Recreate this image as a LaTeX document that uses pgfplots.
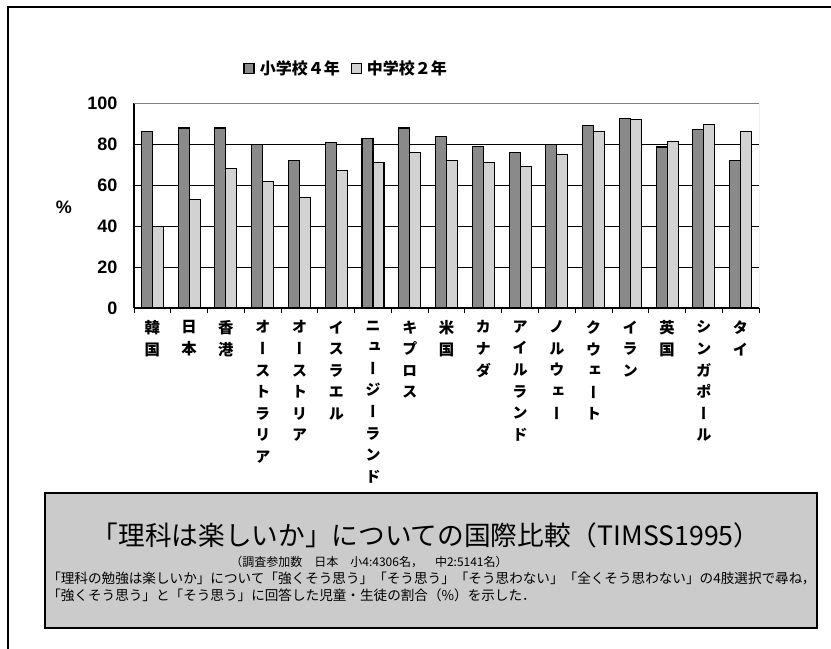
\documentclass[border=0pt]{standalone}
\usepackage{fontspec}
\setmainfont{Liberation Sans}
\newfontfamily\cjk{Noto Sans CJK JP}
\newfontfamily\tate[RawFeature=+vert]{Noto Sans CJK JP}
\usepackage{pgfplots}
\usepackage{pgfplotstable}
\pgfplotsset{compat=1.18}
\definecolor{darkbar}{HTML}{8A8A8A}
\definecolor{lightbar}{HTML}{D2D2D2}
\definecolor{boxgray}{HTML}{CBCBCB}

\pgfplotstableread{
x A B
0 86.5 40
1 88 53
2 88 68
3 80 62
4 72 54
5 81 67
6 83 71
7 88 76
8 84 72
9 79 71
10 76 69
11 80 75
12 89 86.5
13 92.5 92.3
14 78.7 81.3
15 87.4 89.8
16 72.3 86.4
}\datatable

\begin{document}
\begin{tikzpicture}
\useasboundingbox (0pt,0pt) rectangle (623.25pt,486.75pt);
% outer frame
\draw[line width=0.9pt] (6pt,0pt) -- (6pt,481.5pt) -- (623.25pt,481.5pt);

\begin{axis}[
  at={(100.5pt,255.75pt)}, anchor=south west,
  scale only axis, width=468.75pt, height=153.4pt,
  xmin=-0.5, xmax=16.5, ymin=0, ymax=100,
  ybar=0pt, bar width=8.25pt,
  axis lines*=left,
  axis line style={-, line width=0.8pt, black},
  xtick={0,...,16},
  xticklabels={{韓\\国},{日\\本},{香\\港},{オ\\ー\\ス\\ト\\ラ\\リ\\ア},{オ\\ー\\ス\\ト\\リ\\ア},{イ\\ス\\ラ\\エ\\ル},{ニ\\ュ\\ー\\ジ\\ー\\ラ\\ン\\ド},{キ\\プ\\ロ\\ス},{米\\国},{カ\\ナ\\ダ},{ア\\イ\\ル\\ラ\\ン\\ド},{ノ\\ル\\ウ\\ェ\\ー},{ク\\ウ\\ェ\\ー\\ト},{イ\\ラ\\ン},{英\\国},{シ\\ン\\ガ\\ポ\\ー\\ル},{タ\\イ}},
  xticklabel style={font=\tate\bfseries\fontsize{11.5}{16.2}\selectfont, align=center, anchor=north, yshift=-6pt},
  minor xtick={-0.5,0.5,...,16.5},
  ytick={0,20,...,100},
  major tick length=0pt, minor tick length=4pt, tick align=outside,
  minor tick style={black, line width=0.6pt},
  ymajorgrids, grid style={black, line width=0.6pt},
  /pgf/number format/assume math mode=true,
  yticklabel style={font=\bfseries\fontsize{13.5}{15}\selectfont, anchor=east, xshift=-9pt},
  legend style={at={(0.34,1.169)}, anchor=center, draw=none, fill=none,
    legend columns=2, font=\cjk\bfseries\fontsize{12}{14}\selectfont,
    /tikz/every even column/.append style={column sep=6pt}},
]
\addplot[fill=darkbar, draw=black, line width=0.8pt,
  legend image code/.code={\draw[fill=darkbar,draw=black,line width=0.8pt] (0pt,-3.75pt) rectangle (7.5pt,3.75pt);}]
  table[x=x,y=A]{\datatable};
\addplot[fill=lightbar, draw=black, line width=0.8pt,
  legend image code/.code={\draw[fill=lightbar,draw=black,line width=0.8pt] (0pt,-3.75pt) rectangle (7.5pt,3.75pt);}]
  table[x=x,y=B]{\datatable};
\legend{\,小学校４年,\,中学校２年}
\draw[gray, line width=0.6pt] (rel axis cs:0,1) -- (rel axis cs:1,1) -- (rel axis cs:1,0);
\end{axis}

\node[font=\bfseries\fontsize{13.5}{15}\selectfont] at (48pt,331.5pt) {\%};

% bottom box
\draw[fill=boxgray, line width=0.9pt] (33.75pt,15.75pt) rectangle (612.75pt,117pt);
\node[font=\cjk\fontsize{20}{24}\selectfont] at (319.5pt,85.5pt) {「理科は楽しいか」についての国際比較（TIMSS1995）};
\node[font=\cjk\fontsize{9}{11}\selectfont] at (276.75pt,65.25pt) {（調査参加数　日本　小4:4306名，　中2:5141名）};
\node[font=\cjk\fontsize{10.2}{12}\selectfont, anchor=west, inner sep=0pt] at (35.25pt,53.25pt) {「理科の勉強は楽しいか」について「強くそう思う」「そう思う」「そう思わない」「全くそう思わない」の4肢選択で尋ね，};
\node[font=\cjk\fontsize{10.2}{12}\selectfont, anchor=west, inner sep=0pt] at (35.25pt,40.5pt) {「強くそう思う」と「そう思う」に回答した児童・生徒の割合（\%）を示した．};
\end{tikzpicture}
\end{document}
